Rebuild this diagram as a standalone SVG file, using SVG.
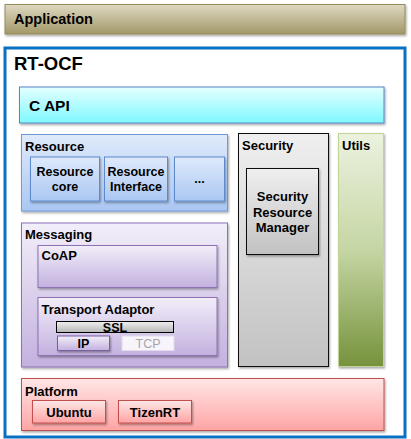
<svg xmlns="http://www.w3.org/2000/svg" width="411" height="439" viewBox="0 0 411 439">
<defs>
<linearGradient id="gApp" x1="0" y1="0" x2="0" y2="1"><stop offset="0" stop-color="#ded9c2"/><stop offset="1" stop-color="#a29868"/></linearGradient>
<linearGradient id="gApi" x1="0" y1="0" x2="0" y2="1"><stop offset="0" stop-color="#e4ffff"/><stop offset="1" stop-color="#7ff8ff"/></linearGradient>
<linearGradient id="gRes" x1="0" y1="0" x2="0" y2="1"><stop offset="0" stop-color="#dfeafb"/><stop offset="1" stop-color="#aac7f2"/></linearGradient>
<linearGradient id="gMsg" x1="0" y1="0" x2="0" y2="1"><stop offset="0" stop-color="#f2eef9"/><stop offset="1" stop-color="#c3b1df"/></linearGradient>
<linearGradient id="gSsl" x1="0" y1="0" x2="0" y2="1"><stop offset="0" stop-color="#f0f0f0"/><stop offset="1" stop-color="#b5b5b5"/></linearGradient>
<linearGradient id="gSec" x1="0" y1="0" x2="0" y2="1"><stop offset="0" stop-color="#efefef"/><stop offset="1" stop-color="#c2c2c2"/></linearGradient>
<linearGradient id="gUtl" x1="0" y1="0" x2="0" y2="1"><stop offset="0" stop-color="#ecf2df"/><stop offset="0.5" stop-color="#c5d6a4"/><stop offset="1" stop-color="#76923c"/></linearGradient>
<linearGradient id="gPlt" x1="0" y1="0" x2="0" y2="1"><stop offset="0" stop-color="#ffe6e6"/><stop offset="1" stop-color="#ffa4a4"/></linearGradient>
<filter id="sh" x="-10%" y="-10%" width="130%" height="140%"><feDropShadow dx="1" dy="1.5" stdDeviation="1" flood-color="#000" flood-opacity="0.35"/></filter>
</defs>
<style>
text{font-family:"Liberation Sans","Noto Sans",Arial,sans-serif;font-weight:bold;fill:#000;}
.t13{font-size:13px;}
.t12{font-size:12.5px;}
.c{text-anchor:middle;}
</style>

<g id="application">
<rect x="5" y="4.5" width="400" height="29.5" fill="url(#gApp)" stroke="#958b5a" stroke-width="1" filter="url(#sh)"/>
<text x="14" y="24" style="font-size:14.5px">Application</text>
</g>

<g id="rt-ocf">
<rect x="5" y="48" width="400" height="389" fill="#fff" stroke="#0a70c2" stroke-width="3"/>
<text x="14" y="70" style="font-size:18.5px">RT-OCF</text>
</g>

<g id="c-api">
<rect x="19.5" y="87" width="364.5" height="36" fill="url(#gApi)" stroke="#5487c4" stroke-width="1" filter="url(#sh)"/>
<text x="29" y="110.5" style="font-size:15.5px">C API</text>
</g>

<g id="resource">
<rect x="21.5" y="134.5" width="206" height="76.5" fill="url(#gRes)" stroke="#6f9bd6" stroke-width="1" filter="url(#sh)"/>
<text x="25" y="151" class="t13">Resource</text>
</g>
<g id="resource-core">
<rect x="30.5" y="157" width="69" height="44" fill="url(#gRes)" stroke="#5b8acd" stroke-width="1" filter="url(#sh)"/>
<text x="65" y="175.5" class="t12 c">Resource</text>
<text x="65" y="190.5" class="t12 c">core</text>
</g>
<g id="resource-interface">
<rect x="104.5" y="157" width="63" height="44" fill="url(#gRes)" stroke="#5b8acd" stroke-width="1" filter="url(#sh)"/>
<text x="136" y="175.5" class="t12 c">Resource</text>
<text x="136" y="190.5" class="t12 c">Interface</text>
</g>
<g id="resource-more">
<rect x="174.5" y="157" width="50" height="44" fill="url(#gRes)" stroke="#5b8acd" stroke-width="1" filter="url(#sh)"/>
<text x="199.5" y="183" class="t12 c">...</text>
</g>

<g id="messaging">
<rect x="21.5" y="223" width="206" height="144" fill="url(#gMsg)" stroke="#8e72b4" stroke-width="1" filter="url(#sh)"/>
<text x="25" y="238.5" class="t13">Messaging</text>
</g>
<g id="coap">
<rect x="38" y="245.5" width="179" height="42" fill="url(#gMsg)" stroke="#8e72b4" stroke-width="1" filter="url(#sh)"/>
<text x="41.5" y="260" class="t13">CoAP</text>
</g>
<g id="transport-adaptor">
<rect x="38" y="297.5" width="179" height="58" fill="url(#gMsg)" stroke="#8e72b4" stroke-width="1" filter="url(#sh)"/>
<text x="41.5" y="313.5" class="t13">Transport Adaptor</text>
</g>
<g id="ssl">
<rect x="56.5" y="321.5" width="117" height="11" fill="url(#gSsl)" stroke="#000" stroke-width="1"/>
<text x="115" y="331.5" class="t12 c">SSL</text>
</g>
<g id="ip">
<rect x="57.5" y="336" width="52" height="14.5" fill="url(#gMsg)" stroke="#7a5fa5" stroke-width="1" filter="url(#sh)"/>
<text x="83.5" y="348" class="t12 c">IP</text>
</g>
<g id="tcp">
<rect x="122" y="336" width="52" height="14.5" fill="#f7f4fb" stroke="#e2dcea" stroke-width="1"/>
<text x="148" y="348" class="t12 c" style="fill:#a6a6a6;font-weight:normal">TCP</text>
</g>

<g id="security">
<rect x="238.5" y="133.5" width="90" height="233" fill="url(#gSec)" stroke="#111" stroke-width="1" filter="url(#sh)"/>
<text x="242" y="150" class="t13">Security</text>
</g>
<g id="security-resource-manager">
<rect x="246.5" y="168.5" width="72" height="86" fill="url(#gSec)" stroke="#111" stroke-width="1" filter="url(#sh)"/>
<text x="282.5" y="200.5" class="t13 c">Security</text>
<text x="282.5" y="216.5" class="t13 c">Resource</text>
<text x="282.5" y="232" class="t13 c">Manager</text>
</g>

<g id="utils">
<rect x="338.5" y="133.5" width="45" height="233" fill="url(#gUtl)" stroke="#c0d498" stroke-width="1" filter="url(#sh)"/>
<text x="342" y="150" class="t13">Utils</text>
</g>

<g id="platform">
<rect x="21.5" y="378.5" width="362.5" height="52" fill="url(#gPlt)" stroke="#c0504d" stroke-width="1" filter="url(#sh)"/>
<text x="25" y="396" class="t13">Platform</text>
</g>
<g id="ubuntu">
<rect x="32.5" y="400.5" width="73" height="22.5" fill="url(#gPlt)" stroke="#c0504d" stroke-width="1" filter="url(#sh)"/>
<text x="69" y="416.5" class="t13 c">Ubuntu</text>
</g>
<g id="tizenrt">
<rect x="118.5" y="400.5" width="73" height="22.5" fill="url(#gPlt)" stroke="#c0504d" stroke-width="1" filter="url(#sh)"/>
<text x="155" y="416.5" class="t13 c">TizenRT</text>
</g>

<g id="connectors"></g>
</svg>
